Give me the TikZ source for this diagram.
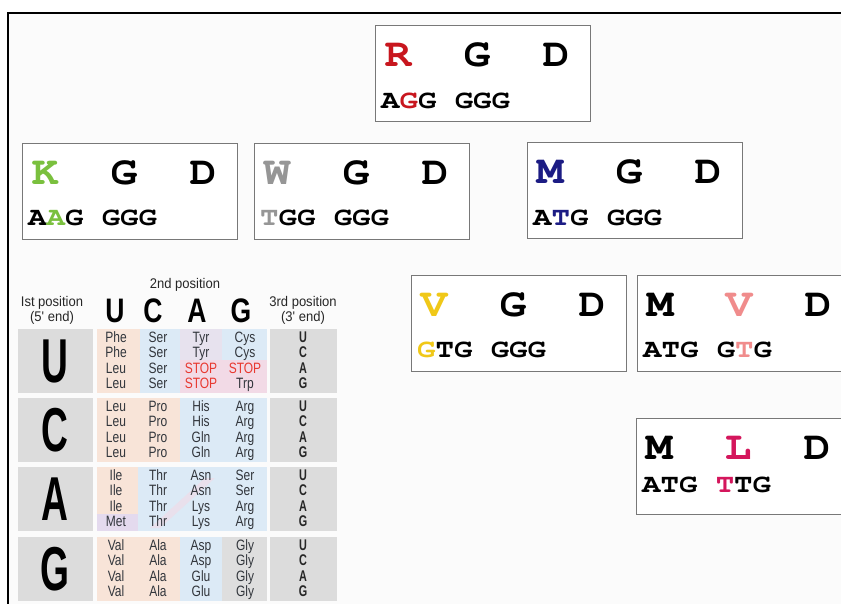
\documentclass[tikz,border=0pt]{standalone}
\usepackage[T1]{fontenc}
\usepackage{fontspec}
\usepackage{graphicx}
% condensed sans faces for the codon table
\newfontfamily\tabfont{Liberation Sans}[FakeStretch=0.8]
\newfontfamily\lblfont{Liberation Sans}[FakeStretch=0.93]
\newfontfamily\headfont{Liberation Sans}[FakeStretch=0.78]
\newfontfamily\bigfont{Liberation Sans}[FakeStretch=0.6]
\newfontfamily\posfont{Liberation Sans}[FakeStretch=0.7]
% bold Courier for the peptide boxes
\newcommand\cour{\fontencoding{T1}\fontfamily{pcr}\fontseries{b}\fontshape{n}\selectfont}

\definecolor{paper}{RGB}{251,251,251}
\definecolor{boxgray}{RGB}{120,120,120}
\definecolor{rred}{RGB}{200,22,30}
\definecolor{kgreen}{RGB}{122,192,62}
\definecolor{wgray}{RGB}{150,150,150}
\definecolor{mnavy}{RGB}{28,28,132}
\definecolor{vgold}{RGB}{240,200,24}
\definecolor{vpink}{RGB}{240,140,140}
\definecolor{lcrim}{RGB}{212,22,92}
\definecolor{peach}{RGB}{248,228,216}
\definecolor{lblue}{RGB}{220,234,246}
\definecolor{pinkc}{RGB}{242,218,230}
\definecolor{lavc}{RGB}{228,218,238}
\definecolor{gcell}{RGB}{222,222,222}
\definecolor{leftgray}{RGB}{220,220,220}
\definecolor{aatext}{RGB}{50,54,60}
\definecolor{stopred}{RGB}{232,56,48}

\newcommand\stp{\textcolor{stopred}{STOP}}

% one peptide box: name, x, y, codon offset, three residues, codon string
\newcommand\pep[8]{%
  \node[pepbox] (#1) at (#2,#3) {};
  \node[resid] (#1-a) at ([shift={(23,30)}]#1.north west) {\scalebox{1.12}[1]{#5}};
  \node[resid] (#1-b) at ([shift={(102,30)}]#1.north west) {\scalebox{1.12}[1]{#6}};
  \node[resid] (#1-c) at ([shift={(181,30)}]#1.north west) {\scalebox{1.12}[1]{#7}};
  \node[codon] (#1-n) at ([shift={(6,#4)}]#1.north west) {\scalebox{1.18}[1]{#8}};
}

% one column of four amino acids in a table block
\newcommand\aacol[4]{%
  \foreach \w [count=\i from 0] in {#4} {%
    \node[aat] (#1-\i) at (#2,#3+13.5+15.4*\i) {\w};
  }%
}

\begin{document}
\begin{tikzpicture}[x=1pt,y=-1pt,
  pepbox/.style={draw=boxgray, line width=1.3pt, fill=white, anchor=north west,
    minimum width=215pt, minimum height=96pt, inner sep=0pt},
  resid/.style={font=\cour\fontsize{40}{40}\selectfont, inner sep=0pt},
  codon/.style={font=\cour\fontsize{26}{26}\selectfont, inner sep=0pt, anchor=west},
  aat/.style={font=\tabfont\fontsize{15}{15}\selectfont, text=aatext, inner sep=0pt, anchor=base},
  thirdpos/.style={font=\posfont\bfseries\fontsize{15.5}{15.5}\selectfont, text=black!85, inner sep=0pt, anchor=base},
  lbl/.style={font=\lblfont\fontsize{14}{14}\selectfont, text=black!85, inner sep=0pt},
  hdr/.style={font=\headfont\bfseries\fontsize{34}{34}\selectfont, inner sep=0pt},
  bigl/.style={font=\bigfont\bfseries\fontsize{62}{62}\selectfont, inner sep=0pt}
]
\useasboundingbox (0,0) rectangle (841,603);
\clip (0,0) rectangle (841,603);

% page frame
\fill[paper] (8,12.5) rectangle (846,608);
\draw[line width=2pt] (8,608) -- (8,12.5) -- (846,12.5);

% peptide boxes
\pep{rgd}{375}{25}{76}{\textcolor{rred}{R}}{G}{D}{A\textcolor{rred}{G}G GGG}
\pep{kgd}{22}{143}{75}{\textcolor{kgreen}{K}}{G}{D}{A\textcolor{kgreen}{A}G GGG}
\pep{wgd}{254}{143}{75}{\textcolor{wgray}{W}}{G}{D}{\textcolor{wgray}{T}GG GGG}
\pep{mgd}{527}{142}{76}{\textcolor{mnavy}{M}}{G}{D}{A\textcolor{mnavy}{T}G GGG}
\pep{vgd}{411}{275}{75}{\textcolor{vgold}{V}}{G}{D}{\textcolor{vgold}{G}TG GGG}
\pep{mvd}{637}{275}{75}{M}{\textcolor{vpink}{V}}{D}{ATG G\textcolor{vpink}{T}G}
\pep{mld}{636}{418}{67}{M}{\textcolor{lcrim}{L}}{D}{ATG \textcolor{lcrim}{T}TG}

% codon table: cell backgrounds
\foreach \T in {329,398,467,537} {
  \fill[leftgray] (18,\T) rectangle (93,\T+63.5);
  \fill[leftgray] (270,\T) rectangle (337,\T+63.5);
}
% first base U
\fill[peach] (97,329) rectangle (140,392.5);
\fill[lblue] (140,329) rectangle (267,392.5);
\fill[pinkc!50!lblue] (180,329) rectangle (222,360);
\fill[pinkc] (180,360) rectangle (267,392.5);
% first base C
\fill[peach] (97,398) rectangle (180,461.5);
\fill[lblue] (180,398) rectangle (267,461.5);
% first base A
\fill[peach] (97,467) rectangle (138,514);
\fill[lavc] (97,514) rectangle (138,530.5);
\fill[lblue] (138,467) rectangle (267,530.5);
% faint pink streak across the Thr/Asn cells
\fill[pinkc!60!lblue] (150,528) -- (160,528) -- (215,478) -- (205,478) -- cycle;
% first base G
\fill[peach] (97,537) rectangle (180,601);
\fill[lblue] (180,537) rectangle (222,601);
\fill[gcell] (222,537) rectangle (267,601);

% headings
\node[lbl] (second) at (185,285) {2nd position};
\node[lbl] (firstA) at (52,303) {Ist position};
\node[lbl] (firstB) at (52,318) {(5' end)};
\node[lbl] (thirdA) at (303,303) {3rd position};
\node[lbl] (thirdB) at (303,318) {(3' end)};
\node[hdr] (hU) at (115,311) {U};
\node[hdr] (hC) at (153,311) {C};
\node[hdr] (hA) at (197,311) {A};
\node[hdr] (hG) at (241,311) {G};

% first-position letters
\node[bigl] (fU) at (55,361) {U};
\node[bigl] (fC) at (55,430) {C};
\node[bigl] (fA) at (55,499) {A};
\node[bigl] (fG) at (55,569) {G};

% amino acids
\aacol{u1}{116}{329}{Phe,Phe,Leu,Leu}
\aacol{u2}{158}{329}{Ser,Ser,Ser,Ser}
\aacol{u3}{201}{329}{Tyr,Tyr,\stp,\stp}
\aacol{u4}{245}{329}{Cys,Cys,\stp,Trp}
\aacol{c1}{116}{398}{Leu,Leu,Leu,Leu}
\aacol{c2}{158}{398}{Pro,Pro,Pro,Pro}
\aacol{c3}{201}{398}{His,His,Gln,Gln}
\aacol{c4}{245}{398}{Arg,Arg,Arg,Arg}
\aacol{a1}{116}{467}{Ile,Ile,Ile,Met}
\aacol{a2}{158}{467}{Thr,Thr,Thr,Thr}
\aacol{a3}{201}{467}{Asn,Asn,Lys,Lys}
\aacol{a4}{245}{467}{Ser,Ser,Arg,Arg}
\aacol{g1}{116}{537}{Val,Val,Val,Val}
\aacol{g2}{158}{537}{Ala,Ala,Ala,Ala}
\aacol{g3}{201}{537}{Asp,Asp,Glu,Glu}
\aacol{g4}{245}{537}{Gly,Gly,Gly,Gly}

% third-position letters
\foreach \T [count=\r] in {329,398,467,537} {
  \foreach \b [count=\i from 0] in {U,C,A,G} {
    \node[thirdpos] (t\r-\i) at (303,\T+13.5+15.4*\i) {\b};
  }
}
\end{tikzpicture}
\end{document}
